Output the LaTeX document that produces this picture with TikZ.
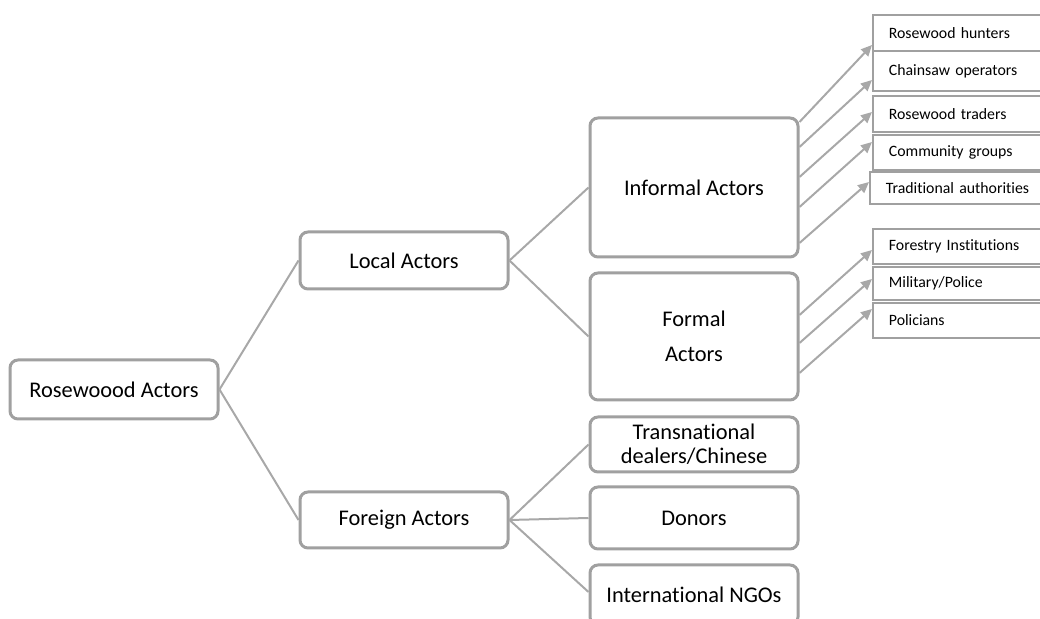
\documentclass[tikz,border=0pt]{standalone}
\usepackage{fontspec}
\setmainfont{Carlito}[Ligatures=NoCommon]
\usetikzlibrary{arrows.meta}
\definecolor{boxgray}{RGB}{160,160,160}
\definecolor{linegray}{RGB}{168,168,168}

\begin{document}
\begin{tikzpicture}[
x=0.5pt, y=-0.5pt,
bigbox/.style={draw=boxgray, line width=1.5pt, rounded corners=4pt, minimum width=104pt, align=center, inner sep=2pt, font=\fontsize{11.2}{12}\selectfont},
smallbox/.style={draw=boxgray, line width=0.9pt, anchor=west, text width=75pt, inner xsep=8pt, inner ysep=0pt, align=left, font=\fontsize{7.9}{9}\selectfont},
link/.style={draw=linegray, line width=1pt},
arrowlink/.style={link, -{Triangle[length=5.5pt,width=5pt]}},
]
\useasboundingbox (0,0) rectangle (1040,619);
\clip (0,0) rectangle (1040,619);

% main tree
\node[bigbox, minimum height=29.5pt] (ros) at (114,389.5) {Rosewoood Actors};
\node[bigbox, minimum height=28.5pt] (loc) at (404,260.5) {Local Actors};
\node[bigbox, minimum height=28pt] (fgn) at (404,520) {Foreign Actors};

\node[bigbox, minimum height=69.5pt] (inf) at (694,187.5) {Informal Actors};
\node[bigbox, minimum height=63.5pt] (frm) at (694,336.5) {Formal\\[5.5pt]Actors};
\node[bigbox, minimum height=27.5pt] (tra) at (694,444.5) {Transnational\\dealers/Chinese};
\node[bigbox, minimum height=31pt] (don) at (694,518) {Donors};
\node[bigbox, minimum height=30pt] (ngo) at (694,595) {International NGOs};

% right column
\begin{scope}
\node[smallbox, minimum height=18pt] (rh) at (872,33) {Rosewood hunters};
\node[smallbox, minimum height=20pt] (co) at (872,71) {Chainsaw operators};
\node[smallbox, minimum height=18pt] (rt) at (872,114) {Rosewood traders};
\node[smallbox, minimum height=17.5pt] (cg) at (872,152.5) {Community groups};
\node[smallbox, minimum height=16pt, text width=76.5pt] (ta) at (869,188) {Traditional authorities};
\node[smallbox, minimum height=17.5pt] (fi) at (872,246.5) {Forestry Institutions};
\node[smallbox, minimum height=16.5pt] (mp) at (872,283.5) {Military/Police};
\node[smallbox, minimum height=17.5pt] (po) at (872,320.5) {Policians};
\end{scope}

\draw[link] (ros.east) -- (loc.west);
\draw[link] (ros.east) -- (fgn.west);
\draw[link] (loc.east) -- (inf.west);
\draw[link] (loc.east) -- (frm.west);
\draw[link] (fgn.east) -- (tra.west);
\draw[link] (fgn.east) -- (don.west);
\draw[link] (fgn.east) -- ([yshift=1.5pt]ngo.west);

\draw[arrowlink] ([yshift=32.75pt]inf.east) -- ([yshift=-6pt]rh.west);
\draw[arrowlink] ([yshift=20.25pt]inf.east) -- ([yshift=-4.5pt]co.west);
\draw[arrowlink] ([yshift=5.25pt]inf.east) -- ([yshift=1pt]rt.west);
\draw[arrowlink] ([yshift=-9.75pt]inf.east) -- ([yshift=5.25pt]cg.west);
\draw[arrowlink] ([yshift=-27.75pt]inf.east) -- ([yshift=3pt]ta.west);

\draw[arrowlink] ([yshift=10.75pt]frm.east) -- ([yshift=-1.75pt]fi.west);
\draw[arrowlink] ([yshift=-3.25pt]frm.east) -- ([yshift=2.25pt]mp.west);
\draw[arrowlink] ([yshift=-18.25pt]frm.east) -- ([yshift=5.75pt]po.west);

\end{tikzpicture}
\end{document}
